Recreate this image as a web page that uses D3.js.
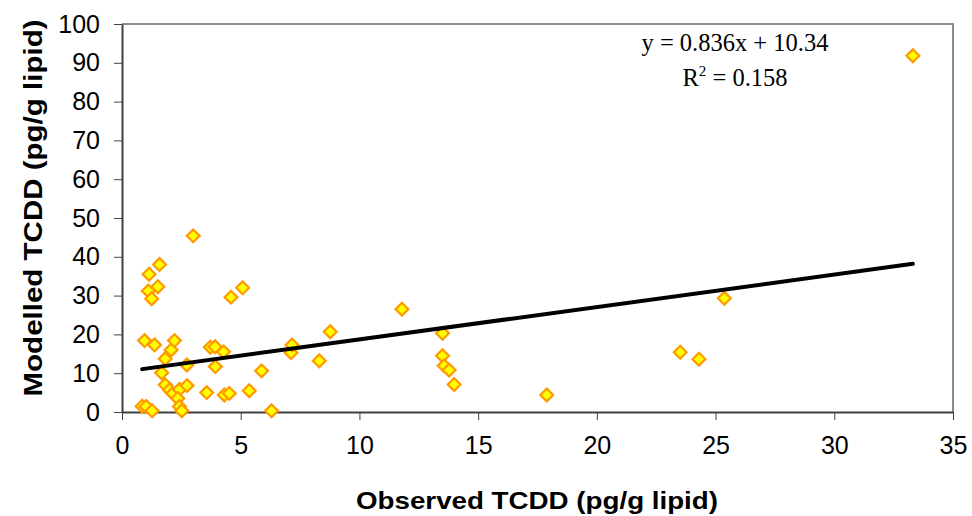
<!DOCTYPE html>
<html>
<head>
<meta charset="utf-8">
<script src="https://cdn.jsdelivr.net/npm/d3@7"></script>
<style>
	body { margin: 0; background: #fff; }
	svg { display: block; }
</style>
</head>
<body>
<div id="chart"></div>
<script>
// observed vs modelled TCDD
const observed = [
	0.85, 1.02, 1.27, 0.95, 1.37, 1.11, 1.25, 1.14, 1.51, 1.58,
	1.67, 1.82, 2.07, 2.21, 1.82, 2.0, 2.14, 2.42, 2.74, 2.35,
	2.42, 2.52, 2.73, 3.0, 3.57, 3.72, 3.92, 4.28, 3.93, 4.31,
	4.52, 4.59, 5.08, 5.36, 5.88, 6.3, 7.12, 7.16, 8.31, 8.77,
	11.79, 13.5, 13.5, 13.57, 13.78, 13.99, 17.89, 23.51, 24.3, 25.37,
	33.31
]
const modelled = [
	1.5, 1.4, 0.3, 18.4, 17.3, 31.2, 29.2, 35.5, 32.3, 38.0,
	10.1, 13.7, 16.0, 18.4, 7.0, 5.7, 4.8, 5.8, 6.8, 3.5,
	1.4, 0.3, 12.1, 45.4, 5.0, 16.7, 16.8, 15.5, 11.7, 4.4,
	4.8, 29.6, 32.0, 5.5, 10.6, 0.3, 15.3, 17.3, 13.2, 20.7,
	26.5, 20.3, 14.5, 11.9, 10.8, 7.1, 4.4, 15.4, 13.6, 29.3,
	91.8
]
const xTicks = [0, 5, 10, 15, 20, 25, 30, 35]
const yTicks = [0, 10, 20, 30, 40, 50, 60, 70, 80, 90, 100]
const slope = 0.836
const intercept = 10.34
const rSquared = 0.158

const width = 972
const height = 516
const margin = { top: 24, right: 19, bottom: 104, left: 122 }

const points = observed.map((x, i) => ({ x, y: modelled[i] }))

const x = d3.scaleLinear().domain([0, 35]).range([margin.left, width - margin.right])
const y = d3.scaleLinear().domain([0, 100]).range([height - margin.bottom, margin.top])

const svg = d3
	.select('#chart')
	.append('svg')
	.attr('width', width)
	.attr('height', height)
	.style('font-family', 'Arial, "Liberation Sans", sans-serif')

// top and right frame lines
svg.append('path')
	.attr('d', `M${x(0)},${y(100)}H${x(35)}V${y(0)}`)
	.attr('fill', 'none')
	.attr('stroke', '#8c8c8c')
	.attr('stroke-width', 2)

const xAxis = svg
	.append('g')
	.attr('transform', `translate(0,${y(0)})`)
	.call(d3.axisBottom(x).tickValues(xTicks).tickSize(8).tickSizeOuter(0).tickPadding(11))
const yAxis = svg
	.append('g')
	.attr('transform', `translate(${x(0)},0)`)
	.call(d3.axisLeft(y).tickValues(yTicks).tickSize(8).tickSizeOuter(0).tickPadding(14))

;[xAxis, yAxis].forEach(ax => {
	ax.select('.domain').attr('stroke', '#404040').attr('stroke-width', 2)
	ax.selectAll('.tick line').attr('stroke', '#404040').attr('stroke-width', 1)
	ax.selectAll('.tick text').attr('fill', '#000').attr('font-size', 25).attr('font-family', 'Arial, "Liberation Sans", sans-serif')
})
xAxis.selectAll('.tick text').attr('dy', '0.9em')

// markers
const diamond = d3.symbol().type(d3.symbolDiamond2).size(105)
svg.append('g')
	.selectAll('path')
	.data(points)
	.enter()
	.append('path')
	.attr('d', diamond)
	.attr('transform', d => `translate(${x(d.x)},${y(d.y)})`)
	.attr('fill', '#ffff00')
	.attr('stroke', '#ff9900')
	.attr('stroke-width', 2.2)

// linear trend line over the data range
const xMin = d3.min(observed)
const xMax = d3.max(observed)
svg.append('line')
	.attr('x1', x(xMin))
	.attr('y1', y(slope * xMin + intercept))
	.attr('x2', x(xMax))
	.attr('y2', y(slope * xMax + intercept))
	.attr('stroke', '#000')
	.attr('stroke-width', 4)
	.attr('stroke-linecap', 'round')

// equation
const eq = svg.append('g')
	.attr('font-family', '"Liberation Serif", "Times New Roman", serif')
	.attr('font-size', 24.5)
	.attr('text-anchor', 'middle')
eq.append('text')
	.attr('x', 735)
	.attr('y', 51)
	.text(`y = ${slope}x + ${intercept}`)
const r2 = eq.append('text').attr('x', 735).attr('y', 86)
r2.append('tspan').text('R')
r2.append('tspan').attr('font-size', 15).attr('dy', -10).text('2')
r2.append('tspan').attr('dy', 10).text(` = ${rSquared}`)

// axis titles
svg.append('text')
	.attr('x', 537)
	.attr('y', 509)
	.attr('text-anchor', 'middle')
	.attr('font-size', 24)
	.attr('font-weight', 'bold')
	.attr('textLength', 362)
	.attr('lengthAdjust', 'spacingAndGlyphs')
	.text('Observed TCDD (pg/g lipid)')

svg.append('text')
	.attr('transform', 'translate(42,208) rotate(-90)')
	.attr('text-anchor', 'middle')
	.attr('font-size', 25)
	.attr('font-weight', 'bold')
	.attr('textLength', 377)
	.attr('lengthAdjust', 'spacingAndGlyphs')
	.text('Modelled TCDD (pg/g lipid)')
</script>
</body>
</html>
